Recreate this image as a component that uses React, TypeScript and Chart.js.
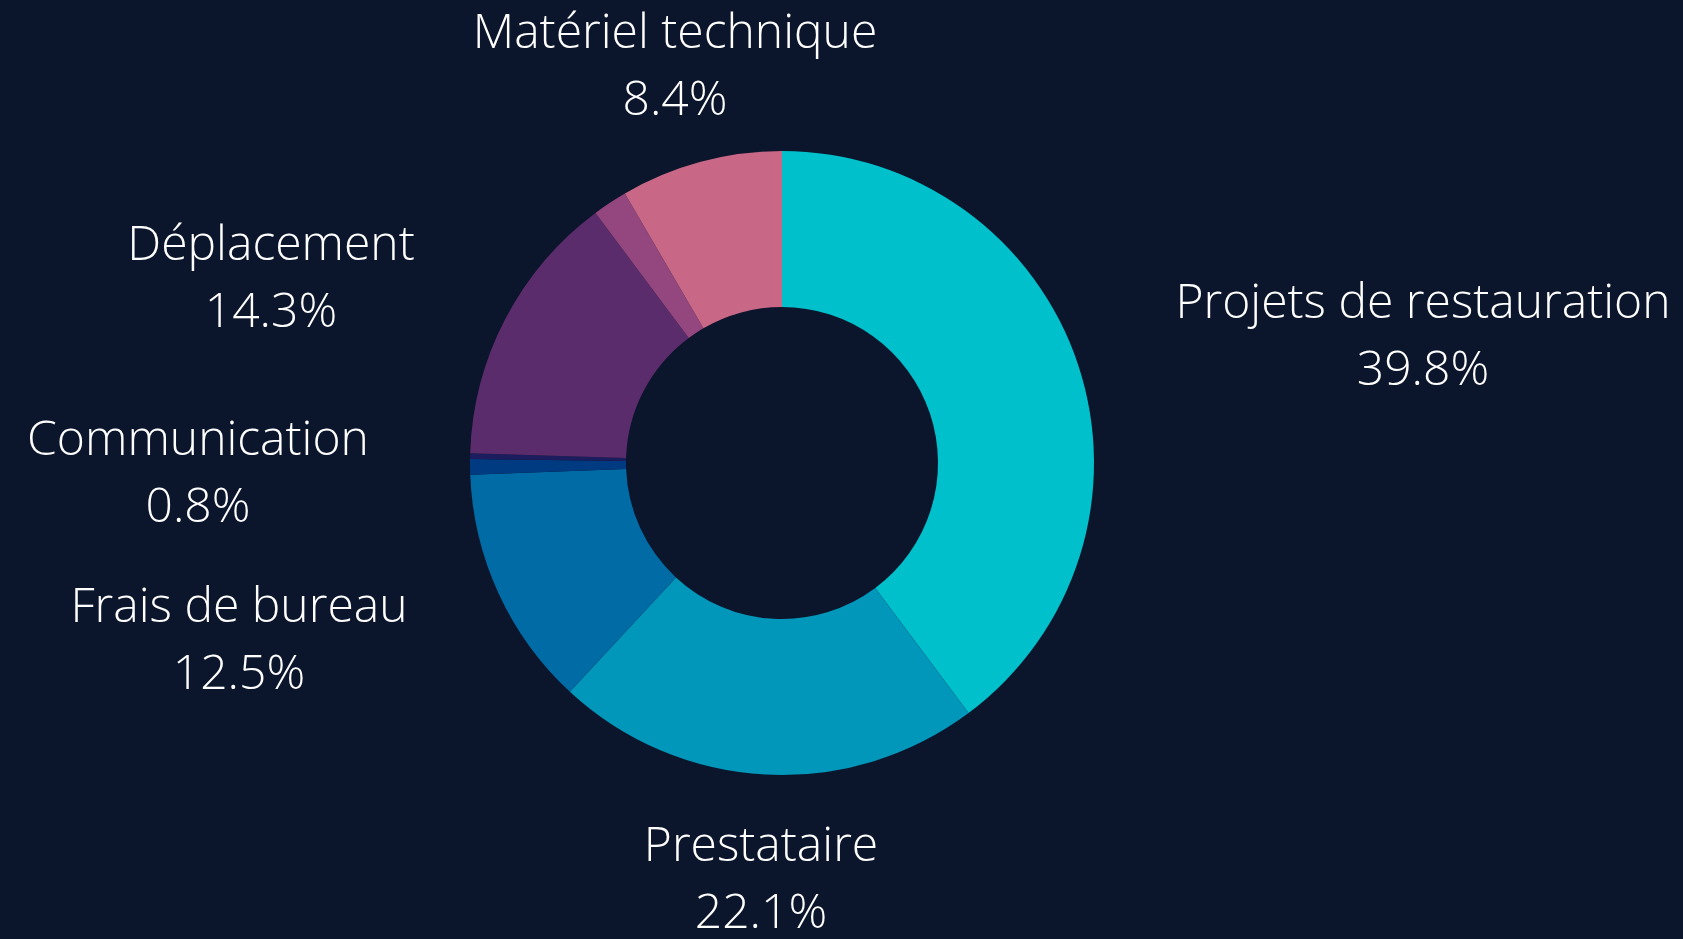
import React, { useEffect, useRef } from "react";
import { Chart, registerables } from "chart.js";

Chart.register(...registerables);

const categories = [
  "Projets de restauration",
  "Prestataire",
  "Frais de bureau",
  "Communication",
  "",
  "Déplacement",
  "",
  "Matériel technique",
];
const values = [39.8, 22.1, 12.5, 0.8, 0.3, 14.3, 1.8, 8.4];
const colors = [
  "#00C1CB",
  "#0097BB",
  "#006BA4",
  "#003A80",
  "#1B1D5E",
  "#5B2C6B",
  "#94467E",
  "#C96787",
];
// label placement relative to the doughnut centre (dx, dy of first baseline)
const labelDx = [641, -21, -543, -584, 0, -511, 0, -107];
const labelDy = [-145, 398, 159, -8, 0, -203, 0, -415];

const BG = "#0B152B";

const labelPlugin = {
  id: "outsideLabels",
  afterDraw(chart: any) {
    const ctx = chart.ctx;
    const meta = chart.getDatasetMeta(0);
    const total = values.reduce((a, b) => a + b, 0);
    ctx.save();
    ctx.fillStyle = "#FFFFFF";
    ctx.textAlign = "center";
    ctx.textBaseline = "alphabetic";
    ctx.font = "300 48px 'Open Sans'";
    meta.data.forEach((arc: any, i: number) => {
      if (!categories[i]) return;
      const cx = arc.x + labelDx[i];
      const cy = arc.y + labelDy[i];
      const pct = ((values[i] / total) * 100).toFixed(1) + "%";
      ctx.fillText(categories[i], cx, cy);
      ctx.fillText(pct, cx, cy + 67);
    });
    ctx.restore();
  },
};

export default function App() {
  const ref = useRef<HTMLCanvasElement>(null);
  useEffect(() => {
    document.body.style.margin = "0";
    document.body.style.background = BG;
    const canvas = ref.current!;
    const chart = new Chart(canvas, {
      type: "doughnut",
      data: {
        labels: categories,
        datasets: [
          {
            data: values,
            backgroundColor: colors,
            borderWidth: 0,
            hoverOffset: 0,
          },
        ],
      },
      options: {
        responsive: false,
        animation: false,
        cutout: "50%",
        layout: { padding: { left: 470, top: 151, right: 589, bottom: 164 } },
        plugins: {
          legend: { display: false },
          tooltip: { enabled: false },
        },
        events: [],
      },
      plugins: [labelPlugin],
    });
    return () => chart.destroy();
  }, []);
  return (
    <div style={{ width: 1683, height: 939, background: BG }}>
      <canvas ref={ref} width={1683} height={939} style={{ display: "block" }} />
    </div>
  );
}
